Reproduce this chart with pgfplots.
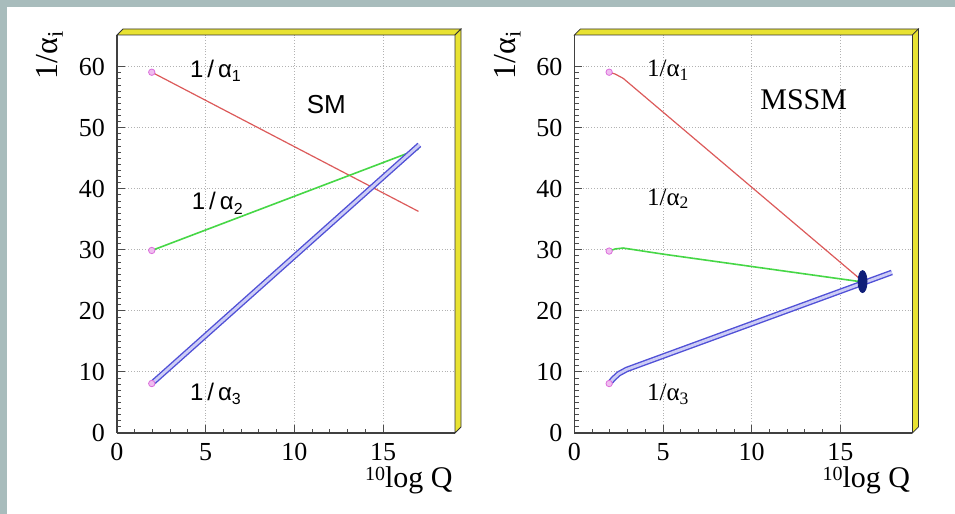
\documentclass[border=0pt]{standalone}
\usepackage{pgfplots}
\pgfplotsset{compat=1.18}
\usepackage{fontspec}
\setmainfont{Liberation Serif}
\newfontfamily\hv{Liberation Sans}

\definecolor{edge}{RGB}{168,188,188}
\definecolor{ryel}{RGB}{232,226,50}
\definecolor{rred}{RGB}{220,90,90}
\definecolor{rgreen}{RGB}{70,215,70}
\definecolor{rblue}{RGB}{80,80,215}
\definecolor{rblueL}{RGB}{205,205,245}
\definecolor{rnavy}{RGB}{15,30,120}
\definecolor{rmag}{RGB}{220,110,220}

\newcommand{\xlab}{l\kern-0.5pt\raisebox{3.6pt}{\fontsize{10}{10}\selectfont 10}\kern-0.5pt}

\pgfplotsset{
  rootstyle/.style={
    scale only axis, width=169pt, height=199pt,
    anchor=south west,
    xmin=0, xmax=19.06, ymin=0, ymax=65.2,
    xtick={0,5,10,15}, ytick={0,10,...,60},
    minor x tick num=4, minor y tick num=9,
    axis lines*=left,
    axis line style={black!75, line width=0.7pt},
    tick align=inside,
    major tick length=4pt, minor tick length=2.2pt,
    tick style={black!70, line width=0.5pt},
    grid=major,
    major grid style={densely dotted, gray!60, line width=0.5pt},
    tick label style={font=\fontsize{13}{13}\selectfont},
    /pgf/number format/assume math mode=true,
    xticklabel style={yshift=-1.5pt},
    yticklabel style={xshift=-2.5pt},
    clip=false,
  },
  start/.style={only marks, mark=*, mark size=1.6pt,
    mark options={fill=rmag!45, draw=rmag, line width=0.4pt}},
  dbl/.style={rblue, line width=0.7pt, double=rblueL, double distance=1.4pt},
}

\begin{document}
\begin{tikzpicture}
\fill[white] (0,0) rectangle (477.5pt,257pt);
\fill[edge] (0,253.5pt) rectangle (477.5pt,257pt);
\fill[edge] (0,0) rectangle (3.5pt,257pt);

% SM
\begin{axis}[rootstyle, at={(58.5pt,40.5pt)}]
\addplot[rred, line width=0.6pt] coordinates {(1.96,59.1) (17,36.3)};
\addplot[rgreen, line width=0.8pt] coordinates {(1.96,29.9) (17,46.5)};
\addplot[dbl] coordinates {(1.96,8.1) (17.05,47.2)};
\addplot[start] coordinates {(1.96,59.1) (1.96,29.9) (1.96,8.1)};
\node[anchor=west, inner sep=0pt, font=\hv\fontsize{12}{12}\selectfont] at (axis cs:4.1,59.3) {1\,/\,α\raisebox{-0.35ex}{\fontsize{8}{8}\selectfont 1}};
\node[anchor=west, inner sep=0pt, font=\hv\fontsize{12}{12}\selectfont] at (axis cs:4.2,37.6) {1\,/\,α\raisebox{-0.35ex}{\fontsize{8}{8}\selectfont 2}};
\node[anchor=west, inner sep=0pt, font=\hv\fontsize{12}{12}\selectfont] at (axis cs:4.1,6.4) {1\,/\,α\raisebox{-0.35ex}{\fontsize{8}{8}\selectfont 3}};
\node[font=\hv\fontsize{13}{13}\selectfont] at (axis cs:11.8,53.8) {SM};
\node[anchor=base east, inner sep=0pt, font=\fontsize{15}{15}\selectfont, yshift=-27.5pt, xshift=-1pt]
  at (rel axis cs:1,0) {\raisebox{3.6pt}{\fontsize{10}{10}\selectfont 10}log Q};
\end{axis}
\filldraw[fill=ryel, draw=black!80, line width=0.4pt]
  (58.5pt,239.5pt) -- (61.5pt,242.5pt) -- (230.5pt,242.5pt) -- (227.5pt,239.5pt) -- cycle;
\filldraw[fill=ryel, draw=black!80, line width=0.4pt]
  (227.5pt,239.5pt) -- (230.5pt,242.5pt) -- (230.5pt,43.5pt) -- (227.5pt,40.5pt) -- cycle;

% MSSM
\begin{axis}[rootstyle, at={(287.2pt,40.5pt)}]
\addplot[rred, line width=0.6pt] coordinates {(1.96,59.1) (2.3,58.8) (2.75,58.1) (16.2,25.0)};
\addplot[rgreen, line width=0.8pt] coordinates {(1.96,29.8) (2.3,30.15) (2.75,30.3) (5,29.3) (16.1,24.8)};
\addplot[only marks, mark=*, mark size=5.5pt,
  mark options={xscale=0.41, fill=rnavy, draw=rnavy}] coordinates {(16.25,24.8)};
\addplot[dbl] coordinates {(1.96,8.1) (2.2,8.9) (2.5,9.7) (2.94,10.4) (17.9,26.3)};
\addplot[start] coordinates {(1.96,59.1) (1.96,29.8) (1.96,8.1)};
\node[anchor=west, inner sep=0pt, font=\fontsize{12.5}{12.5}\selectfont] at (axis cs:4.08,59.4) {1/α\textsubscript{1}};
\node[anchor=west, inner sep=0pt, font=\fontsize{12.5}{12.5}\selectfont] at (axis cs:4.08,38.4) {1/α\textsubscript{2}};
\node[anchor=west, inner sep=0pt, font=\fontsize{12.5}{12.5}\selectfont] at (axis cs:4.08,6.3) {1/α\textsubscript{3}};
\node[font=\fontsize{15}{15}\selectfont] at (axis cs:12.93,54.6) {MSSM};
\node[anchor=base east, inner sep=0pt, font=\fontsize{15}{15}\selectfont, yshift=-27.5pt, xshift=-1pt]
  at (rel axis cs:1,0) {\raisebox{3.6pt}{\fontsize{10}{10}\selectfont 10}log Q};
\end{axis}
\filldraw[fill=ryel, draw=black!80, line width=0.4pt]
  (287.2pt,239.5pt) -- (290.2pt,242.5pt) -- (459.2pt,242.5pt) -- (456.2pt,239.5pt) -- cycle;
\filldraw[fill=ryel, draw=black!80, line width=0.4pt]
  (456.2pt,239.5pt) -- (459.2pt,242.5pt) -- (459.2pt,43.5pt) -- (456.2pt,40.5pt) -- cycle;

% y labels
\node[rotate=90, anchor=base west, inner sep=0pt, font=\fontsize{16}{16}\selectfont] at (28.8pt,217pt) {1/α\textsubscript{i}};
\node[rotate=90, anchor=base west, inner sep=0pt, font=\fontsize{16}{16}\selectfont] at (257.7pt,217pt) {1/α\textsubscript{i}};
\end{tikzpicture}
\end{document}
